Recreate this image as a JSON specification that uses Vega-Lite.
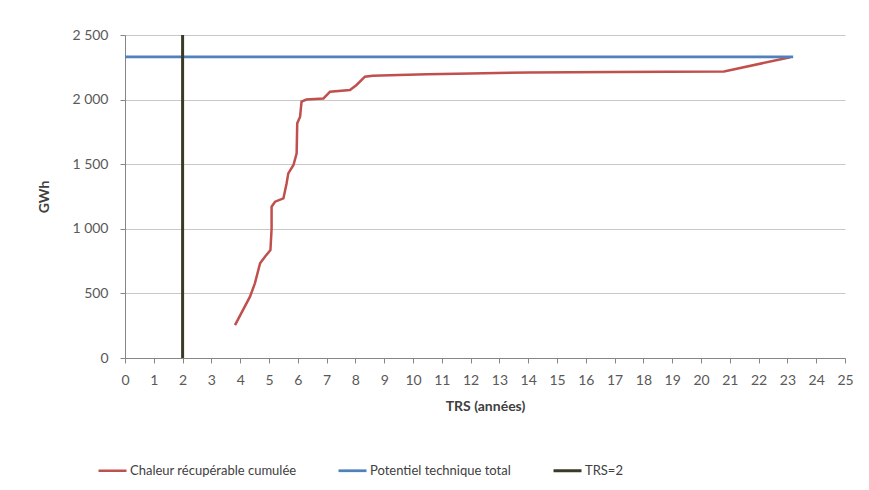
{
  "$schema": "https://vega.github.io/schema/vega-lite/v6.json",
  "width": 720,
  "height": 323,
  "autosize": "none",
  "padding": {"left": 125, "top": 35, "right": 24, "bottom": 132},
  "background": "white",
  "config": {
    "font": "Lato",
    "view": {"stroke": null},
    "axis": {"labelFont": "Lato", "titleFont": "Lato", "labelColor": "#595959", "titleColor": "#404040", "domainColor": "#868686", "tickColor": "#868686", "labelFontSize": 14, "titleFontSize": 14}
  },
  "data": {
    "values": [
      {"series": "Chaleur récupérable cumulée", "i": 1, "x": 3.82, "y": 255},
      {"series": "Chaleur récupérable cumulée", "i": 2, "x": 4.34, "y": 475},
      {"series": "Chaleur récupérable cumulée", "i": 3, "x": 4.51, "y": 578},
      {"series": "Chaleur récupérable cumulée", "i": 4, "x": 4.69, "y": 733},
      {"series": "Chaleur récupérable cumulée", "i": 5, "x": 4.86, "y": 784},
      {"series": "Chaleur récupérable cumulée", "i": 6, "x": 5.05, "y": 836},
      {"series": "Chaleur récupérable cumulée", "i": 7, "x": 5.09, "y": 1000},
      {"series": "Chaleur récupérable cumulée", "i": 8, "x": 5.09, "y": 1171},
      {"series": "Chaleur récupérable cumulée", "i": 9, "x": 5.21, "y": 1210},
      {"series": "Chaleur récupérable cumulée", "i": 10, "x": 5.5, "y": 1235},
      {"series": "Chaleur récupérable cumulée", "i": 11, "x": 5.61, "y": 1351},
      {"series": "Chaleur récupérable cumulée", "i": 12, "x": 5.67, "y": 1429},
      {"series": "Chaleur récupérable cumulée", "i": 13, "x": 5.85, "y": 1494},
      {"series": "Chaleur récupérable cumulée", "i": 14, "x": 5.96, "y": 1584},
      {"series": "Chaleur récupérable cumulée", "i": 15, "x": 5.98, "y": 1816},
      {"series": "Chaleur récupérable cumulée", "i": 16, "x": 6.08, "y": 1868},
      {"series": "Chaleur récupérable cumulée", "i": 17, "x": 6.13, "y": 1984},
      {"series": "Chaleur récupérable cumulée", "i": 18, "x": 6.3, "y": 2000},
      {"series": "Chaleur récupérable cumulée", "i": 19, "x": 6.89, "y": 2009},
      {"series": "Chaleur récupérable cumulée", "i": 20, "x": 7.12, "y": 2061},
      {"series": "Chaleur récupérable cumulée", "i": 21, "x": 7.81, "y": 2074},
      {"series": "Chaleur récupérable cumulée", "i": 22, "x": 8.04, "y": 2113},
      {"series": "Chaleur récupérable cumulée", "i": 23, "x": 8.33, "y": 2177},
      {"series": "Chaleur récupérable cumulée", "i": 24, "x": 8.6, "y": 2185},
      {"series": "Chaleur récupérable cumulée", "i": 25, "x": 9.5, "y": 2190},
      {"series": "Chaleur récupérable cumulée", "i": 26, "x": 10.5, "y": 2197},
      {"series": "Chaleur récupérable cumulée", "i": 27, "x": 12, "y": 2202},
      {"series": "Chaleur récupérable cumulée", "i": 28, "x": 14, "y": 2210},
      {"series": "Chaleur récupérable cumulée", "i": 29, "x": 17, "y": 2214},
      {"series": "Chaleur récupérable cumulée", "i": 30, "x": 20.8, "y": 2218},
      {"series": "Chaleur récupérable cumulée", "i": 31, "x": 23.1, "y": 2328},
      {"series": "Potentiel technique total", "i": 1, "x": 0, "y": 2330},
      {"series": "Potentiel technique total", "i": 2, "x": 23.2, "y": 2330},
      {"series": "TRS=2", "i": 1, "x": 2, "y": 0},
      {"series": "TRS=2", "i": 2, "x": 2, "y": 2500}
    ]
  },
  "mark": {"type": "line", "strokeCap": "butt"},
  "encoding": {
    "x": {
      "field": "x", "type": "quantitative",
      "scale": {"domain": [0, 25], "nice": false},
      "axis": {"values": [0,1,2,3,4,5,6,7,8,9,10,11,12,13,14,15,16,17,18,19,20,21,22,23,24,25], "grid": false, "title": "TRS (années)", "titleFontWeight": "bold", "labelPadding": 10, "titlePadding": 12, "tickSize": 5, "labelFlush": false}
    },
    "y": {
      "field": "y", "type": "quantitative",
      "scale": {"domain": [0, 2500], "nice": false},
      "axis": {"values": [0, 500, 1000, 1500, 2000, 2500], "grid": true, "gridColor": "#c8c8c8", "title": "GWh", "titleFontWeight": "bold", "labelExpr": "replace(format(datum.value, ','), ',', ' ')", "labelPadding": 12, "titlePadding": 20, "tickSize": 5}
    },
    "order": {"field": "i", "type": "quantitative"},
    "color": {
      "field": "series", "type": "nominal",
      "scale": {"domain": ["Chaleur récupérable cumulée", "Potentiel technique total", "TRS=2"], "range": ["#c0504d", "#4f81bd", "#3a3a26"]},
      "legend": {"title": null, "orient": "none", "legendX": -28, "legendY": 420, "direction": "horizontal", "symbolType": "stroke", "symbolSize": 784, "symbolStrokeWidth": 3, "labelFontSize": 13, "labelColor": "#404040", "labelOffset": 2, "labelLimit": 0, "columnPadding": 36, "labelFont": "Lato"}
    },
    "strokeWidth": {
      "field": "series", "type": "nominal",
      "scale": {"domain": ["Chaleur récupérable cumulée", "Potentiel technique total", "TRS=2"], "range": [2.5, 3, 5.5]},
      "legend": null
    }
  }
}
